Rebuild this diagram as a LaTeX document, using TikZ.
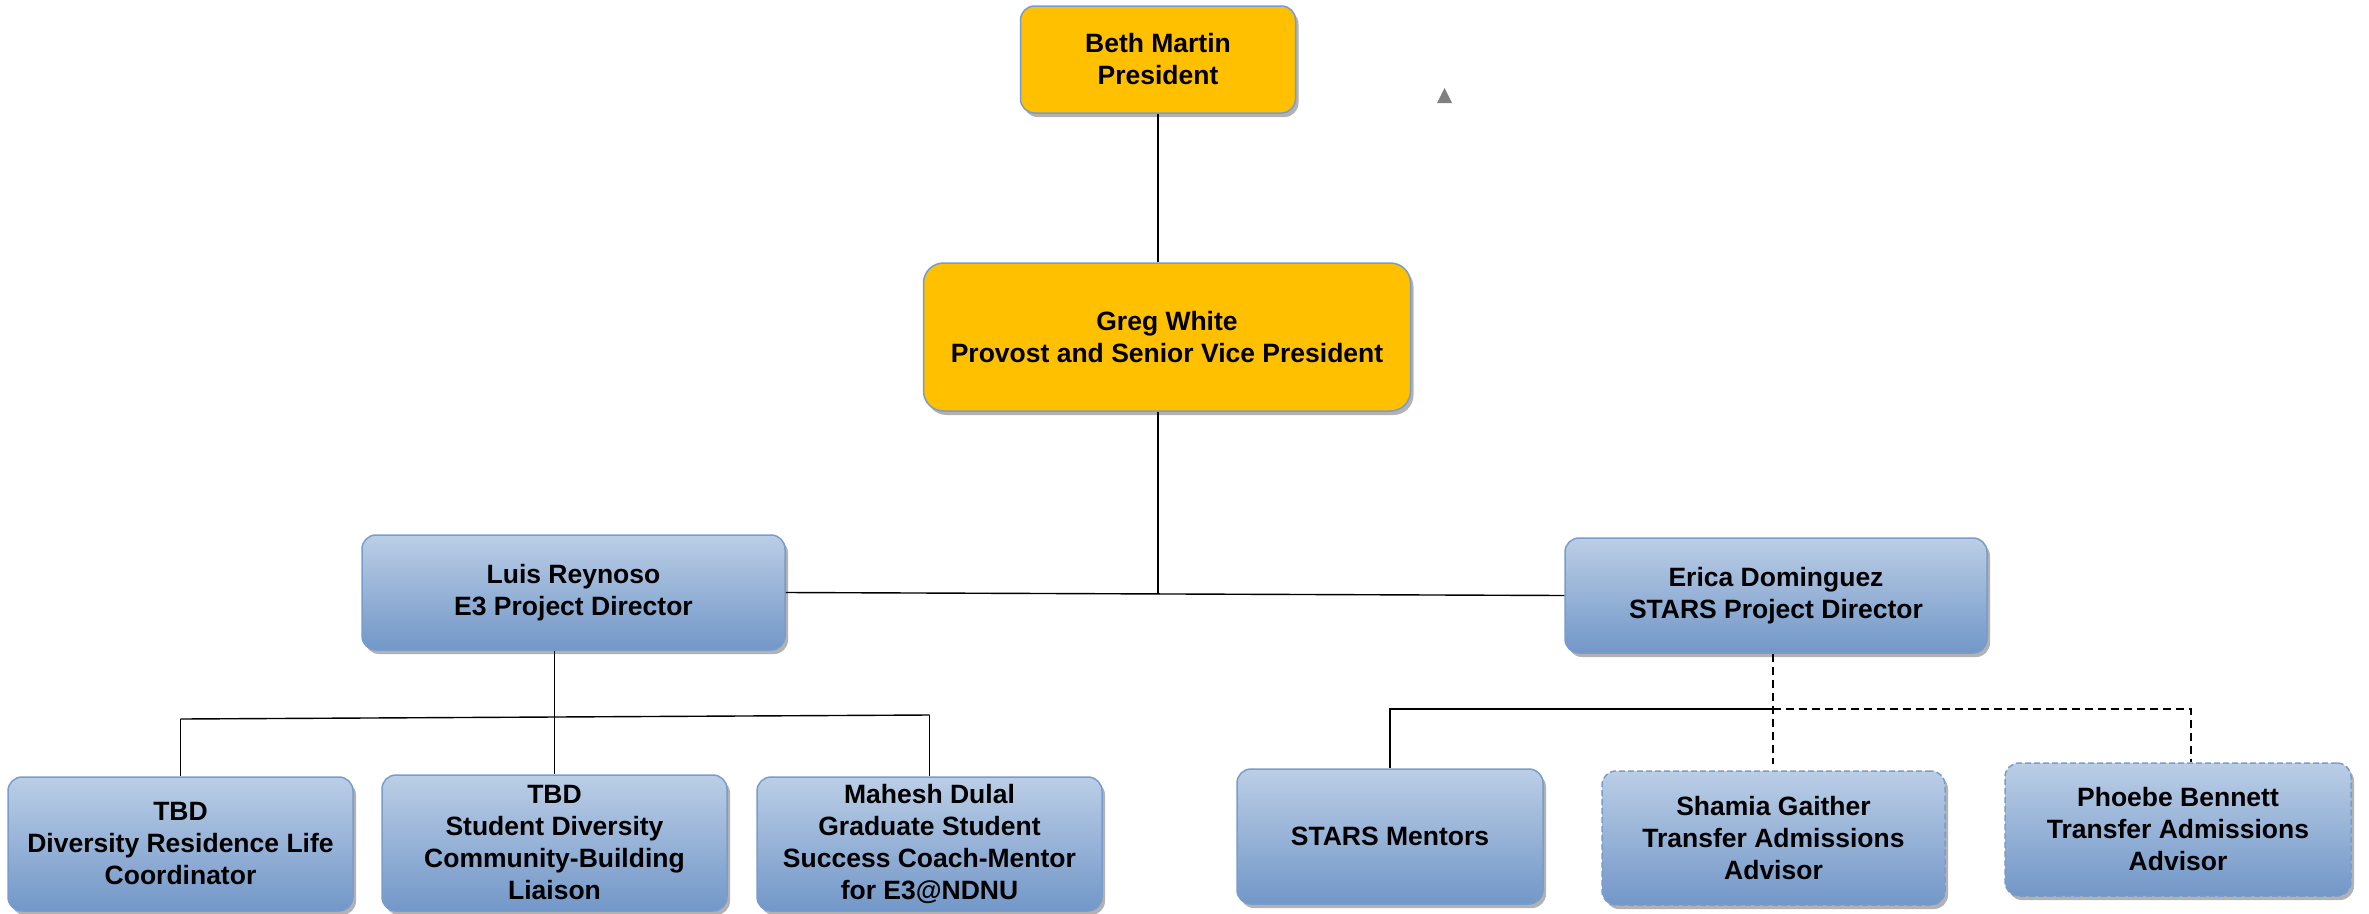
\documentclass[tikz,border=0pt]{standalone}
\usepackage{fontspec}
\setmainfont{Liberation Sans}
\usetikzlibrary{shadows}
\definecolor{boxtop}{RGB}{187,206,230}
\definecolor{boxbot}{RGB}{114,151,200}
\definecolor{boxedge}{RGB}{120,156,206}
\definecolor{gold}{RGB}{255,192,0}
\begin{document}
\begin{tikzpicture}[x=1pt,y=-1pt,
  base/.style={draw=boxedge, line width=1.5pt, rounded corners=14pt, inner sep=0pt, align=center,
    font=\fontsize{26.5}{32}\selectfont\bfseries,
    drop shadow={shadow xshift=3pt,shadow yshift=-4pt,opacity=0.3,fill=black}},
  gbox/.style={base, fill=gold},
  bbox/.style={base, top color=boxtop, bottom color=boxbot},
  dbox/.style={bbox, dash pattern=on 6pt off 3pt},
  conn/.style={line width=1.4pt, black},
  dconn/.style={conn, dash pattern=on 8pt off 5pt},
  sz/.style 2 args={minimum width=#1pt, minimum height=#2pt}
]
\useasboundingbox (0,0) rectangle (2369,913);

\node[gbox, sz={275}{107}] (beth) at (1158,59.5) {Beth Martin\\President};
\node[gbox, sz={487}{148}, rounded corners=20pt] (greg) at (1167,337) {Greg White\\Provost and Senior Vice President};
\node[bbox, sz={423}{115}] (luis) at (573.5,592.5) {Luis Reynoso\\E3 Project Director};
\node[bbox, sz={422}{115}] (erica) at (1776,595.5) {Erica Dominguez\\STARS Project Director};
\node[bbox, sz={345}{134}] (tbd1) at (180.5,844) {TBD\\Diversity Residence Life\\Coordinator};
\node[bbox, sz={345}{136}] (tbd2) at (554.5,843) {TBD\\Student Diversity\\Community-Building\\Liaison};
\node[bbox, sz={345}{134}] (mahesh) at (929.5,844) {Mahesh Dulal\\Graduate Student\\Success Coach-Mentor\\for E3@NDNU};
\node[bbox, sz={306}{135}] (stars) at (1390,836.5) {STARS Mentors};
\node[dbox, sz={343}{134}] (shamia) at (1773.5,838) {Shamia Gaither\\Transfer Admissions\\Advisor};
\node[dbox, sz={346}{133}] (phoebe) at (2178,829.5) {Phoebe Bennett\\Transfer Admissions\\Advisor};

% top connectors
\draw[conn] (beth.south) -- (beth.south |- greg.north);
\draw[conn] (beth.south |- greg.south) -- (beth.south |- luis.east);
\draw[conn] (luis.east) -- (erica.west);

% left group
\coordinate (barL) at (tbd1.north |- 0,719);
\coordinate (barR) at (mahesh.north |- 0,715);
\draw[conn] (barL) -- (barR);
\draw[conn] (barL) -- (tbd1.north);
\draw[conn] (barR) -- (mahesh.north);
\draw[conn] (tbd2.north |- luis.south) -- (tbd2.north);

% right group
\coordinate (ej) at (1773,709);
\coordinate (pj) at (2191,709);
\draw[conn] (ej) -| (stars.north);
\draw[dconn] (ej |- erica.south) -- (ej) -- ([yshift=6pt]ej |- shamia.north);
\draw[dconn] (ej) -- (pj) -- (pj |- phoebe.north);

% stray marker
\fill[gray] (1437,103) -- (1452,103) -- (1444.5,88) -- cycle;
\end{tikzpicture}
\end{document}
